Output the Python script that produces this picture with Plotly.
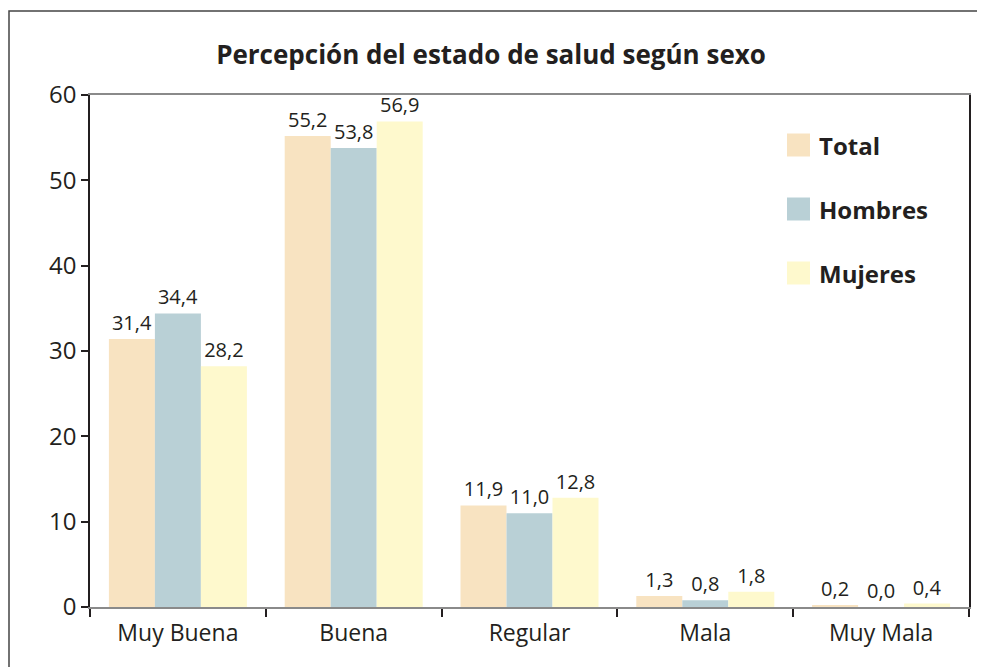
import plotly.graph_objects as go

categories = ["Muy Buena", "Buena", "Regular", "Mala", "Muy Mala"]
total = [31.4, 55.2, 11.9, 1.3, 0.2]
hombres = [34.4, 53.8, 11.0, 0.8, 0.0]
mujeres = [28.2, 56.9, 12.8, 1.8, 0.4]
series_names = ["Total", "Hombres", "Mujeres"]
colors = ["#F8E3C1", "#B9D0D6", "#FEF9CD"]
y_ticks = [0, 10, 20, 30, 40, 50, 60]

FONT = "Open Sans"
DARK = "#231f20"

OFF = 8  # page body margin
W, H = 985 - OFF, 667 - OFF
# plot area in screen pixels: x 90..969, y 95..607
L = 90 - OFF
R = W - (969 - OFF)
T = 95 - OFF
B = H - (607 - OFF)
PW, PH = W - L - R, H - T - B


def px_x(px):
    return (px - OFF - L) / PW


def px_y(py):
    return (H - B - (py - OFF)) / PH


def fmt(v):
    return f"{v:.1f}".replace(".", ",")


fig = go.Figure()
for name, vals, col in zip(series_names, [total, hombres, mujeres], colors):
    fig.add_trace(go.Bar(
        x=categories, y=vals, name=name,
        marker=dict(color=col, line=dict(width=0)),
        text=[fmt(v) for v in vals], textposition="outside",
        textfont=dict(family=FONT, size=20, color=DARK),
        cliponaxis=False, showlegend=False,
    ))

shapes = []
annotations = []
# outer frame
shapes.append(dict(type="rect", xref="paper", yref="paper",
                   x0=px_x(9), x1=px_x(1000), y0=px_y(700), y1=px_y(11),
                   line=dict(color="#444444", width=1.5), layer="below"))
# manual legend
legend_rows = [145, 209, 273]
for name, col, row in zip(series_names, colors, legend_rows):
    shapes.append(dict(type="rect", xref="paper", yref="paper",
                       x0=px_x(787), x1=px_x(810),
                       y0=px_y(row + 11.5), y1=px_y(row - 11.5),
                       fillcolor=col, line=dict(width=0)))
    annotations.append(dict(xref="paper", yref="paper", x=px_x(817), y=px_y(row),
                            xanchor="left", yanchor="middle", showarrow=False,
                            text=f"<b>{name}</b>",
                            font=dict(family=FONT, size=24, color=DARK)))

fig.update_layout(
    width=W, height=H,
    margin=dict(l=L, r=R, t=T, b=B, pad=0),
    paper_bgcolor="white", plot_bgcolor="white",
    barmode="group", bargap=0.215, bargroupgap=0,
    title=dict(text="<b>Percepción del estado de salud según sexo</b>",
               x=px_x(491), xref="paper", xanchor="center",
               y=1 - (55 - OFF) / H, yref="container", yanchor="middle",
               font=dict(family=FONT, size=26, color=DARK)),
    shapes=shapes, annotations=annotations,
    showlegend=False,
)
fig.update_xaxes(
    type="category", tickson="boundaries", ticks="outside", ticklen=8,
    tickcolor=DARK, tickwidth=1.5, ticklabelstandoff=4,
    showline=True, linecolor="#8a8a8a", linewidth=2, mirror=True,
    showgrid=False, zeroline=False,
    tickfont=dict(family=FONT, size=23, color=DARK),
)
fig.update_yaxes(
    range=[0, 60], tickmode="array", tickvals=y_ticks,
    ticks="outside", ticklen=7, tickcolor=DARK, tickwidth=1.5,
    showline=True, linecolor=DARK, linewidth=1.5, mirror=True,
    showgrid=False, zeroline=False,
    tickfont=dict(family=FONT, size=24, color=DARK),
)

fig.write_html("out.html")
